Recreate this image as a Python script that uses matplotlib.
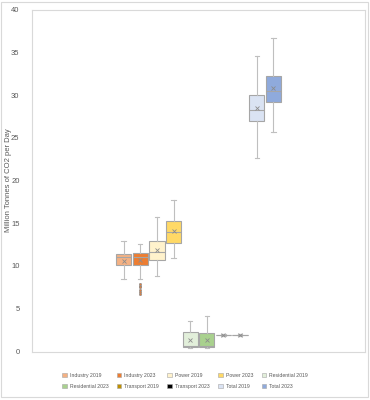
"""
Box & whisker chart: daily CO2 emissions by sector, 2019 vs 2023.
"""
import matplotlib

matplotlib.use("Agg")
import matplotlib.pyplot as plt
from matplotlib.patches import Patch, Rectangle

# ---- data ----
series = [
    "Industry 2019", "Industry 2023", "Power 2019", "Power 2023",
    "Residential 2019", "Residential 2023", "Transport 2019", "Transport 2023",
    "Total 2019", "Total 2023",
]
colors = [
    "#F4B183", "#ED7D31", "#FFF2CC", "#FFD966", "#E2EFDA",
    "#A9D18E", "#BF8F00", "#000000", "#DAE3F3", "#8FAADC",
]
whislo = [8.46, 8.44, 8.80, 10.90, 0.40, 0.40, 1.85, 1.85, 22.60, 25.67]
q1 = [10.14, 10.12, 10.67, 12.69, 0.55, 0.55, 1.88, 1.88, 26.96, 29.18]
med = [11.03, 11.02, 11.64, 13.94, 0.70, 0.70, 1.93, 1.93, 28.21, 30.47]
q3 = [11.43, 11.49, 12.96, 15.23, 2.30, 2.15, 1.98, 1.98, 29.96, 32.19]
whishi = [12.87, 12.54, 15.70, 17.72, 3.55, 4.10, 2.02, 2.02, 34.56, 36.67]
means = [10.64, 10.67, 11.84, 14.09, 1.35, 1.35, 1.93, 1.93, 28.44, 30.78]
fliers = [[], [7.9, 7.7, 7.5, 7.2, 7.0, 6.7], [], [], [], [], [], [], [], []]

yticks = [0, 5, 10, 15, 20, 25, 30, 35, 40]

FONT = ["Liberation Sans", "DejaVu Sans"]
TXT = "#595959"
GRID = "#D9D9D9"

plt.rcParams["font.family"] = FONT

fig = plt.figure(figsize=(3.7, 4.0), dpi=100)
ax = fig.add_axes([32 / 370, 48.5 / 400, 333 / 370, 342 / 400])

n = len(series)
slot = 0.5 / n
positions = [0.25 + (i + 0.5) * slot for i in range(n)]

stats = []
for i in range(n):
    stats.append(
        {
            "label": series[i],
            "whislo": whislo[i],
            "q1": q1[i],
            "med": med[i],
            "q3": q3[i],
            "whishi": whishi[i],
            "mean": means[i],
            "fliers": fliers[i],
        }
    )

bp = ax.bxp(
    stats,
    positions=positions,
    widths=slot * 0.92,
    capwidths=0.013,
    patch_artist=True,
    showmeans=True,
    manage_ticks=False,
    boxprops=dict(edgecolor="#A6A6A6", linewidth=0.8),
    medianprops=dict(color="#A6A6A6", linewidth=0.8),
    whiskerprops=dict(color="#BFBFBF", linewidth=0.8),
    capprops=dict(color="#BFBFBF", linewidth=0.8),
    meanprops=dict(marker="x", markersize=3.5, markeredgecolor="#8C8C8C",
                   markeredgewidth=0.6),
    flierprops=dict(marker="o", markersize=1.6, markerfacecolor="#ED7D31",
                    markeredgecolor="#8C8C8C", markeredgewidth=0.5),
)
for patch, c in zip(bp["boxes"], colors):
    patch.set_facecolor(c)

ax.set_xlim(0, 1)
ax.set_ylim(0, 40)
ax.set_yticks(yticks)
ax.set_xticks([])
ax.tick_params(axis="y", length=0, labelsize=5.5, labelcolor=TXT, pad=9)
for s in ax.spines.values():
    s.set_color(GRID)
    s.set_linewidth(0.8)
ax.set_ylabel("Million Tonnes of CO2 per Day", fontsize=5.5, color=TXT)
ax.yaxis.set_label_coords(-20 / 333, 0.5)

# legend filled row by row (matplotlib fills column by column)
order = [0, 5, 1, 6, 2, 7, 3, 8, 4, 9]
handles = [Patch(facecolor=colors[i], edgecolor="#A6A6A6", linewidth=0.4) for i in order]
labels = [series[i] for i in order]
fig.legend(
    handles, labels,
    loc="center", bbox_to_anchor=(0.5, 19 / 400),
    ncol=5, frameon=False, fontsize=3.7, labelcolor=TXT,
    handlelength=0.9, handleheight=0.9, handletextpad=0.6,
    columnspacing=1.6, labelspacing=1.2,
)

# outer chart border
fig.patches.append(
    Rectangle((1 / 370, 3 / 400), 367 / 370, 395 / 400, transform=fig.transFigure,
              fill=False, edgecolor=GRID, linewidth=0.8)
)

fig.savefig("out.png", dpi=100)
